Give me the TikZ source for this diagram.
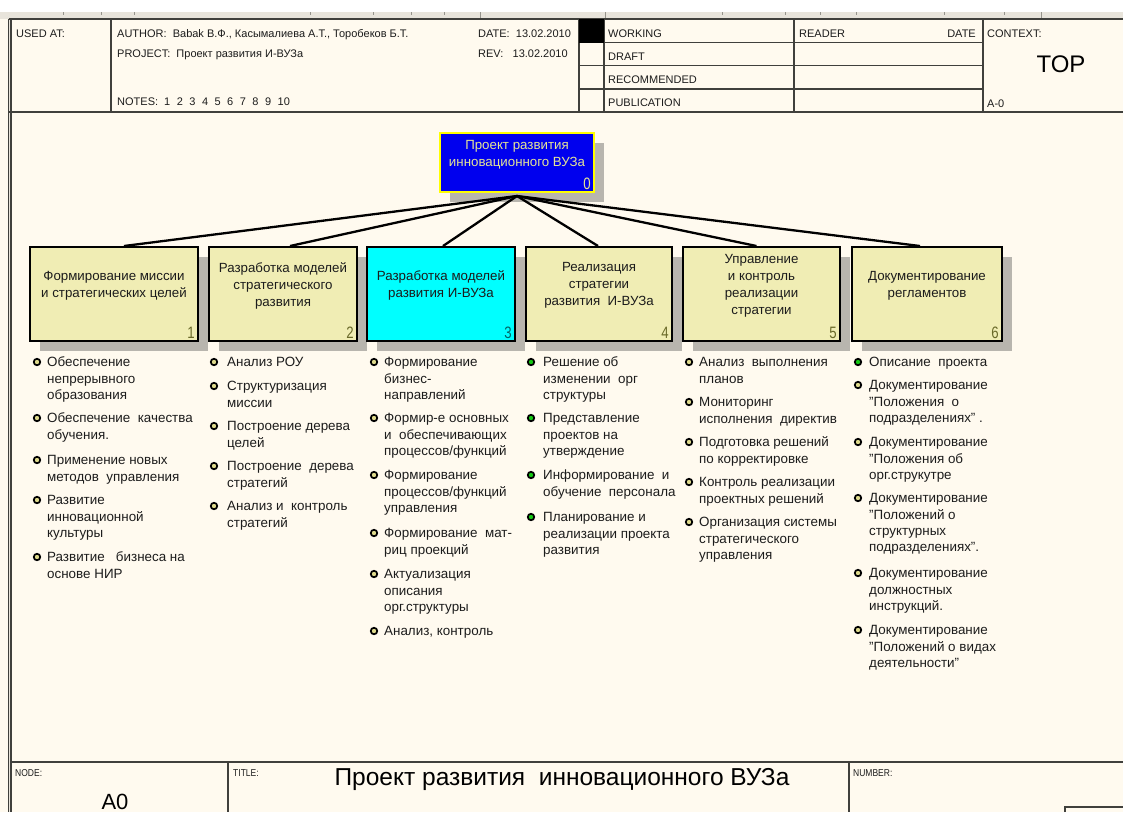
\documentclass[tikz,border=0pt]{standalone}
\usepackage{fontspec}
\setmainfont{Liberation Sans}
\newfontfamily\narrowf[FakeStretch=0.85]{Liberation Sans}
\newfontfamily\numf[FakeStretch=0.8]{Liberation Sans}
\definecolor{bgc}{RGB}{255,250,239}
\definecolor{rulerc}{RGB}{232,228,219}
\definecolor{tickc}{RGB}{150,148,140}
\definecolor{boxc}{RGB}{240,237,180}
\definecolor{shadc}{RGB}{184,181,174}
\definecolor{framec}{RGB}{64,64,60}
\definecolor{txtc}{RGB}{28,28,28}
\definecolor{bluec}{RGB}{0,0,238}
\definecolor{yelc}{RGB}{255,255,0}
\definecolor{ytxtc}{RGB}{228,228,150}
\definecolor{bulyc}{RGB}{222,218,140}
\definecolor{bulgc}{RGB}{20,200,20}
\definecolor{cyanc}{RGB}{0,255,255}
\definecolor{olivec}{RGB}{105,105,40}
\definecolor{tealc}{RGB}{0,100,100}
\tikzset{
 frameline/.style={draw=framec, line width=1.1pt},
 rulertick/.style={draw=tickc, line width=0.8pt},
 htext/.style={font=\fontsize{11}{12}\selectfont, text=txtc, inner sep=0pt, anchor=base west},
 smalllab/.style={font=\narrowf\fontsize{10}{12}\selectfont, text=txtc, inner sep=0pt, anchor=base west},
 childbox/.style={draw=black, line width=2pt, fill=boxc, minimum height=94pt, inner sep=0pt},
 topbox/.style={draw=yelc, line width=2pt, fill=bluec, minimum width=154pt, minimum height=59pt, inner sep=0pt},
 boxtext/.style={font=\fontsize{13.3}{17}\selectfont, text=txtc, align=center, inner sep=0pt},
 boxnum/.style={font=\numf\fontsize{16.5}{16.5}\selectfont, text=olivec, inner sep=0pt, anchor=south east},
 shadowfill/.style={fill=shadc},
 conn/.style={draw=black, line width=2.3pt},
 bul/.style={circle, draw=black, line width=1.7pt, minimum size=6.5pt, inner sep=0pt},
 itm/.style={font=\fontsize{13.4}{16.4}\selectfont, text=txtc, align=left, inner sep=0pt, anchor=north west},
}
\newcommand\listentry[6]{%
  \node[bul, fill=#5] (#1b) at (#2,#4) {};
  \node[itm] (#1) at (#3,{#4-5.5}) {\rule{0pt}{10pt}#6};
}
\begin{document}
\begin{tikzpicture}[x=1pt,y=-1pt]
\useasboundingbox (0,0) rectangle (1123,812);
% background
\fill[white] (0,0) rectangle (1123,12);
\fill[rulerc] (0,12) rectangle (1123,19);
\fill[bgc] (0,19) rectangle (1123,812);
\foreach \tx in {63,101,134,310,373,411,444,722,785,820,856,944,1004}
  \draw[rulertick] (\tx,12) -- (\tx,14.5);
\foreach \tx in {480,605,1041}
  \draw[rulertick] (\tx,12) -- (\tx,19);
% frame
\fill[rulerc] (8.5,19) rectangle (11,812);
\draw[frameline] (8.5,19) -- (8.5,812);
\draw[frameline] (11,19) -- (11,812);
\draw[frameline] (8.5,19) -- (1123,19);
\draw[frameline] (8.5,112) -- (1123,112);
\foreach \vx in {111,579,604,794,983}
  \draw[frameline] (\vx,19) -- (\vx,112);
\foreach \hy in {42.5,65.5,89}
  \draw[frameline] (579,\hy) -- (983,\hy);
\fill[black] (579,19) rectangle (604,42.5);
% header texts
\node[htext] (usedat) at (16,37) {USED AT:};
\node[htext] (author) at (117,37) {AUTHOR:\ \ Babak В.Ф., Касымалиева А.Т., Торобеков Б.Т.};
\node[htext] (project) at (117,57) {PROJECT:\ \ Проект развития И-ВУЗа};
\node[htext] (notes) at (117,105) {NOTES:\hspace{6pt}1\hspace{6.5pt}2\hspace{6.5pt}3\hspace{6.5pt}4\hspace{6.5pt}5\hspace{6.5pt}6\hspace{6.5pt}7\hspace{6.5pt}8\hspace{6.5pt}9\hspace{6.5pt}10};
\node[htext] (date) at (478,37) {DATE:\ \ 13.02.2010};
\node[htext] (rev) at (478,57) {REV:\ \ \ 13.02.2010};
\node[htext] (working) at (608,37) {WORKING};
\node[htext] (draft) at (608,60) {DRAFT};
\node[htext] (recom) at (608,83) {RECOMMENDED};
\node[htext] (public) at (608,106) {PUBLICATION};
\node[htext] (reader) at (799,37) {READER};
\node[htext, anchor=base east] (rdate) at (976,37) {DATE};
\node[htext] (context) at (987,37) {CONTEXT:};
\node[font=\fontsize{24}{24}\selectfont, text=black, inner sep=0pt] (topl) at (1061,64) {TOP};
\node[htext] (actx) at (987,107) {A-0};
% shadows
\fill[shadowfill] (450,143) rectangle (604,202);
\foreach \sa/\sb in {30/198,209/357,367/515,526/672,683/840,852/1002}
  \fill[shadowfill] (\sa+10,257) rectangle (\sb+10,351);
% top box
\node[topbox] (b0) at (517,162.5) {};
\node[boxtext, text=ytxtc] (t0) at ([yshift=8pt]b0.center) {Проект развития\\инновационного ВУЗа};
\node[boxnum, text=ytxtc] (n0) at ([xshift=-4pt,yshift=3pt]b0.south east) {0};
% child boxes
\node[childbox, minimum width=168pt] (b1) at (114,294) {};
\node[childbox, minimum width=148pt] (b2) at (283,294) {};
\node[childbox, minimum width=148pt, fill=cyanc] (b3) at (441,294) {};
\node[childbox, minimum width=146pt] (b4) at (599,294) {};
\node[childbox, minimum width=157pt] (b5) at (761.5,294) {};
\node[childbox, minimum width=150pt] (b6) at (927,294) {};
\node[boxtext] (t1) at ([yshift=8.5pt]b1.center) {Формирование миссии\\и стратегических целей};
\node[boxtext] (t2) at ([yshift=8.5pt]b2.center) {Разработка моделей\\стратегического\\развития};
\node[boxtext] (t3) at ([yshift=8.5pt]b3.center) {Разработка моделей\\развития И-ВУЗа};
\node[boxtext] (t4) at ([yshift=8.5pt]b4.center) {Реализация\\стратегии\\развития\ \ И-ВУЗа};
\node[boxtext] (t5) at ([yshift=8pt]b5.center) {Управление\\и контроль\\реализации\\стратегии};
\node[boxtext] (t6) at ([yshift=8.5pt]b6.center) {Документирование\\регламентов};
\foreach \i in {1,2,4,5,6}
  \node[boxnum] (n\i) at ([xshift=-4pt,yshift=3pt]b\i.south east) {\i};
\node[boxnum, text=tealc] (n3) at ([xshift=-4pt,yshift=3pt]b3.south east) {3};
% connectors
\coordinate (src) at ([yshift=-3pt]b0.south);
\draw[conn] (src) -- ([xshift=10pt]b1.north);
\draw[conn] (src) -- ([xshift=7pt]b2.north);
\draw[conn] (src) -- ([xshift=2pt]b3.north);
\draw[conn] (src) -- ([xshift=-1pt]b4.north);
\draw[conn] (src) -- ([xshift=-5pt]b5.north);
\draw[conn] (src) -- ([xshift=-7pt]b6.north);
% column 1
\listentry{a1}{37}{47}{362}{bulyc}{Обеспечение\\непрерывного\\образования}
\listentry{a2}{37}{47}{418}{bulyc}{Обеспечение\ \ качества\\обучения.}
\listentry{a3}{37}{47}{460}{bulyc}{Применение новых\\методов\ \ управления}
\listentry{a4}{37}{47}{500}{bulyc}{Развитие\\инновационной\\культуры}
\listentry{a5}{37}{47}{557}{bulyc}{Развитие\ \ \ бизнеса на\\основе НИР}
% column 2
\listentry{c1}{214}{227}{362}{bulyc}{Анализ РОУ}
\listentry{c2}{214}{227}{386}{bulyc}{Структуризация\\миссии}
\listentry{c3}{214}{227}{426}{bulyc}{Построение дерева\\целей}
\listentry{c4}{214}{227}{466}{bulyc}{Построение\ \ дерева\\стратегий}
\listentry{c5}{214}{227}{506}{bulyc}{Анализ и\ \ контроль\\стратегий}
% column 3
\listentry{d1}{374}{384}{362}{bulyc}{Формирование\\бизнес-\\направлений}
\listentry{d2}{374}{384}{418}{bulyc}{Формир-е основных\\и\ \ обеспечивающих\\процессов/функций}
\listentry{d3}{374}{384}{475}{bulyc}{Формирование\\процессов/функций\\управления}
\listentry{d4}{374}{384}{533}{bulyc}{Формирование\ \ мат-\\риц проекций}
\listentry{d5}{374}{384}{574}{bulyc}{Актуализация\\описания\\орг.структуры}
\listentry{d6}{374}{384}{631}{bulyc}{Анализ, контроль}
% column 4
\listentry{e1}{531}{543}{362}{bulgc}{Решение об\\изменении\ \ орг\\структуры}
\listentry{e2}{531}{543}{418}{bulgc}{Представление\\проектов на\\утверждение}
\listentry{e3}{531}{543}{475}{bulgc}{Информирование\ \ и\\обучение\ \ персонала}
\listentry{e4}{531}{543}{517}{bulgc}{Планирование и\\реализации проекта\\развития}
% column 5
\listentry{f1}{689}{699}{362}{bulyc}{Анализ\ \ выполнения\\планов}
\listentry{f2}{689}{699}{402}{bulyc}{Мониторинг\\исполнения\ \ директив}
\listentry{f3}{689}{699}{442}{bulyc}{Подготовка решений\\по корректировке}
\listentry{f4}{689}{699}{482}{bulyc}{Контроль реализации\\проектных решений}
\listentry{f5}{689}{699}{522}{bulyc}{Организация системы\\стратегического\\управления}
% column 6
\listentry{g1}{858}{869}{362}{bulgc}{Описание\ \ проекта}
\listentry{g2}{858}{869}{385}{bulyc}{Документирование\\"Положения\ \ о\\подразделениях" .}
\listentry{g3}{858}{869}{442}{bulyc}{Документирование\\"Положения об\\орг.струкутре}
\listentry{g4}{858}{869}{498}{bulyc}{Документирование\\"Положений о\\структурных\\подразделениях".}
\listentry{g5}{858}{869}{573}{bulyc}{Документирование\\должностных\\инструкций.}
\listentry{g6}{858}{869}{630}{bulyc}{Документирование\\"Положений о видах\\деятельности"}
% bottom band
\draw[frameline] (11,762) -- (1123,762);
\draw[frameline] (228,762) -- (228,812);
\draw[frameline] (849,762) -- (849,812);
\draw[frameline] (1065,812) |- (1123,807);
\node[smalllab] (nodelab) at (15,776) {NODE:};
\node[smalllab] (titlelab) at (233,776) {TITLE:};
\node[smalllab] (numlab) at (853,776) {NUMBER:};
\node[font=\fontsize{24.5}{25}\selectfont, text=black, inner sep=0pt] (title) at (562,779) {Проект развития\ \ инновационного ВУЗа};
\node[font=\fontsize{22}{22}\selectfont, text=black, inner sep=0pt] (anode) at (115,801.5) {A0};
\end{tikzpicture}
\end{document}
